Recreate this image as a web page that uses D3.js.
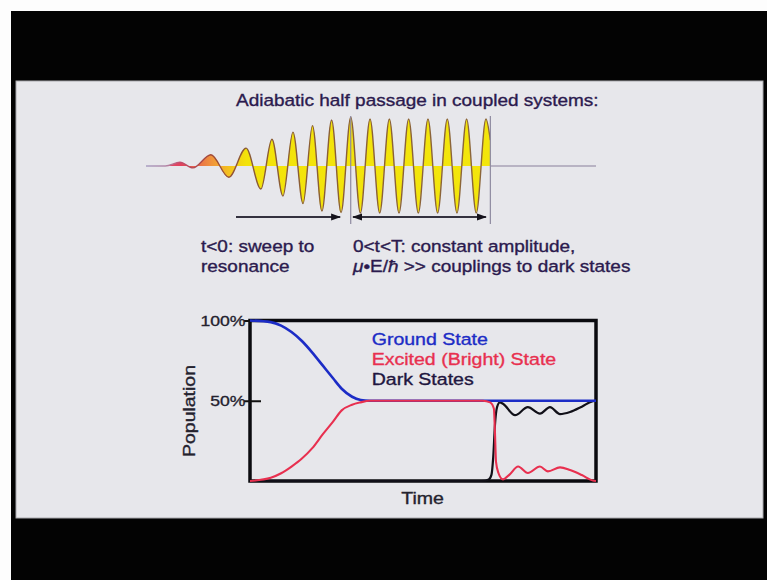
<!DOCTYPE html>
<html>
<head>
<meta charset="utf-8">
<script src="https://cdn.jsdelivr.net/npm/d3@7"></script>
<style>
  html, body { margin: 0; padding: 0; background: #fff; overflow: hidden; }
  svg { display: block; font-family: "Liberation Sans", Arial, Helvetica, sans-serif; }
</style>
</head>
<body>
<svg id="chart" width="767" height="580"></svg>
<script>
// ---- Laser pulse: field extrema, time in optical cycles (t = 0 at resonance) ----
const pulseStart = -10.6;
const pulseEnd = 12.7;
const cutTime = 7.23;
const pulseTime  = [-10.6, -9.6, -8.84, -8.17, -7.24, -6.31, -5.42, -4.65, -4.08, -3.51, -2.99, -2.47, -1.98, -1.49, -0.99, -0.5,
                    0, 0.5, 1, 1.5, 2, 2.5, 3, 3.5, 4, 4.5, 5, 5.5, 6, 6.5, 7, 7.23];
const pulseField = [0, 0, 0.08, -0.04, 0.24, -0.24, 0.38, -0.49, 0.57, -0.64, 0.72, -0.8, 0.86, -0.96, 0.98, -0.99,
                    1.04, -1, 1, -1, 1, -1, 1, -1, 1, -1, 1, -1, 1, -1, 1, 0.55];
// arrows marking the two stages of the pulse [from, to]
const sweepSpan = [-5.94, -0.55];
const plateauSpan = [0.12, 7.0];

// ---- Populations, time in arbitrary units 0..100 ----
const groundTime = [0, 6, 9, 12, 15, 18, 21, 24, 26.5, 29.5, 32, 34.5, 60, 100];
const groundPop  = [1.0, 0.99, 0.968, 0.928, 0.872, 0.8, 0.72, 0.64, 0.575, 0.525, 0.505, 0.5, 0.5, 0.5];

const excitedTime = [0, 6, 9, 12, 15, 18, 21, 24, 26.5, 29.5, 32, 34.5, 50, 67.3, 69.4, 70.5, 70.8, 71.1, 71.8, 73.1,
                     75, 77.5, 80.3, 83.8, 86.1, 89.6, 92.5, 95.9, 99.1, 100];
const excitedPop  = [0, 0.02, 0.048, 0.09, 0.14, 0.205, 0.29, 0.37, 0.44, 0.475, 0.49, 0.5, 0.5, 0.5, 0.49, 0.45, 0.3, 0.12, 0.05, 0.01,
                     0.04, 0.09, 0.05, 0.09, 0.06, 0.085, 0.068, 0.037, 0.003, 0];

const darkTime = [0, 50, 67, 69, 69.8, 70.3, 70.8, 71.4, 72.2, 73.2, 76.6, 80.3, 83.8, 86.7, 89.6, 92.5, 95.9, 99.1, 100];
const darkPop  = [0, 0, 0, 0.01, 0.04, 0.15, 0.35, 0.46, 0.49, 0.48, 0.41, 0.46, 0.42, 0.46, 0.417, 0.43, 0.463, 0.498, 0.5];

const popTicks = [0.5, 1];
const legendLabels = ["Ground State", "Excited (Bright) State", "Dark States"];
const legendColors = ["#1c2cc6", "#e8304f", "#1f1640"];

const titleText = "Adiabatic  half passage in coupled systems:";
const sweepLines = ["t<0: sweep to", "resonance"];
const plateauLine1 = "0<t<T: constant amplitude,";

// ---------------------------------------------------------------------------
const svg = d3.select("#chart");
const SX = 1.15;   // horizontal text stretch of the slide lettering
const ink = "#2b1a4e";

function label(parent, str, x, y, size, color, anchor) {
  return parent.append("text")
    .attr("transform", `translate(${x},${y}) scale(${SX},1)`)
    .attr("text-anchor", anchor || "start")
    .attr("font-size", size)
    .attr("fill", color)
    .attr("stroke", color).attr("stroke-width", 0.35)
    .text(str);
}

// frame of the projected slide
svg.append("rect").attr("x", 0).attr("y", 0).attr("width", 767).attr("height", 580).attr("fill", "#fdfdfd");
svg.append("rect").attr("x", 11).attr("y", 11).attr("width", 756).attr("height", 569).attr("fill", "#030303");
svg.append("rect").attr("x", 16).attr("y", 81).attr("width", 747).attr("height", 437)
  .attr("fill", "#e7e7eb").attr("stroke", "#a9a9ad").attr("stroke-width", 1);

// ---- title ----
label(svg, titleText, 236, 105.7, 16.5, ink);

// ---- pulse ----
const waveX = d3.scaleLinear().domain([pulseStart, pulseEnd]).range([146, 596]);
const waveY = d3.scaleLinear().domain([-1, 1]).range([213, 119]);
const pts = pulseTime.map((t, i) => [t, pulseField[i]]);

const defs = svg.append("defs");
const x0 = waveX(pulseStart), x1 = waveX(pulseEnd);
const off = t => (waveX(t) - x0) / (x1 - x0);

const fillGrad = defs.append("linearGradient").attr("id", "pulseFill")
  .attr("gradientUnits", "userSpaceOnUse").attr("x1", x0).attr("x2", x1).attr("y1", 0).attr("y2", 0);
[[pulseStart, "#e2607c"], [-8.8, "#e0425e"], [-8.0, "#e8684a"], [-7.2, "#f0943c"], [-6.3, "#f4c21e"], [-5.4, "#f3e30a"], [pulseEnd, "#f3e70c"]]
  .forEach(([t, c]) => fillGrad.append("stop").attr("offset", off(t)).attr("stop-color", c));

const strokeGrad = defs.append("linearGradient").attr("id", "pulseStroke")
  .attr("gradientUnits", "userSpaceOnUse").attr("x1", x0).attr("x2", x1).attr("y1", 0).attr("y2", 0);
[[pulseStart, "#a99fc2"], [-9.6, "#b28aaa"], [-8.8, "#c24c6c"], [-7.2, "#a04a38"], [-5.4, "#8a5a35"], [pulseEnd, "#8c6c3c"]]
  .forEach(([t, c]) => strokeGrad.append("stop").attr("offset", off(t)).attr("stop-color", c));

svg.append("path")
  .datum(pts)
  .attr("d", d3.area().x(d => waveX(d[0])).y0(waveY(0)).y1(d => waveY(d[1])).curve(d3.curveMonotoneX))
  .attr("fill", "url(#pulseFill)");

svg.append("path")
  .datum(pts)
  .attr("d", d3.line().x(d => waveX(d[0])).y(d => waveY(d[1])).curve(d3.curveMonotoneX))
  .attr("fill", "none").attr("stroke", "url(#pulseStroke)").attr("stroke-width", 1.4);

// baseline after the pulse
svg.append("line")
  .attr("x1", waveX(cutTime)).attr("x2", waveX(pulseEnd))
  .attr("y1", waveY(0)).attr("y2", waveY(0))
  .attr("stroke", "#a8a2b6").attr("stroke-width", 1.6);

// t = 0 and t = T markers
[0, cutTime].forEach(t => {
  svg.append("line")
    .attr("x1", waveX(t)).attr("x2", waveX(t))
    .attr("y1", waveY(1) - 3).attr("y2", waveY(-1) + 11)
    .attr("stroke", "#8e8aa0").attr("stroke-width", 1.2);
});

// arrows
defs.append("marker").attr("id", "head")
  .attr("markerUnits", "userSpaceOnUse").attr("markerWidth", 10).attr("markerHeight", 8)
  .attr("refX", 9).attr("refY", 4).attr("orient", "auto-start-reverse")
  .append("path").attr("d", "M0,0.5 L10,4 L0,7.5 Z").attr("fill", "#14121c");

const arrowY = waveY(-1) + 4;
svg.append("line")
  .attr("x1", waveX(sweepSpan[0])).attr("x2", waveX(sweepSpan[1]))
  .attr("y1", arrowY).attr("y2", arrowY)
  .attr("stroke", "#34323f").attr("stroke-width", 2)
  .attr("marker-end", "url(#head)");
svg.append("line")
  .attr("x1", waveX(plateauSpan[0])).attr("x2", waveX(plateauSpan[1]))
  .attr("y1", arrowY).attr("y2", arrowY)
  .attr("stroke", "#34323f").attr("stroke-width", 2)
  .attr("marker-start", "url(#head)").attr("marker-end", "url(#head)");

// stage descriptions
label(svg, sweepLines[0], 201, 251.7, 16.5, ink);
label(svg, sweepLines[1], 201, 271.7, 16.5, ink);
label(svg, plateauLine1, 353, 251.7, 16.5, ink);
const l2 = label(svg, "", 353, 271.7, 16.5, ink);
l2.append("tspan").attr("font-style", "italic").text("μ");
l2.append("tspan").text("•E/");
l2.append("tspan").attr("font-style", "italic").text("ħ");
l2.append("tspan").text(" >> couplings to dark states");

// ---- population plot ----
const popX = d3.scaleLinear().domain([0, 100]).range([250, 596]);
const popY = d3.scaleLinear().domain([0, 1]).range([481, 320.5]);

svg.append("rect")
  .attr("x", popX(0)).attr("y", popY(1))
  .attr("width", popX(100) - popX(0)).attr("height", popY(0) - popY(1))
  .attr("fill", "none").attr("stroke", "#0b0b0f").attr("stroke-width", 3.5);

const yAxis = svg.append("g")
  .attr("transform", `translate(${popX(0)},0)`)
  .call(d3.axisLeft(popY).tickValues(popTicks).tickFormat(d3.format(".0%")).tickSize(6).tickPadding(-2));
yAxis.select(".domain").remove();
yAxis.selectAll(".tick line").attr("x1", 11).attr("stroke", "#111").attr("stroke-width", 2);
yAxis.selectAll(".tick text")
  .attr("font-family", "Liberation Sans, Arial, sans-serif")
  .attr("font-size", 15.3).attr("fill", "#24222e")
  .attr("stroke", "#24222e").attr("stroke-width", 0.35)
  .attr("transform", `scale(${SX},1)`);

const popLine = (T, P) => d3.line()
  .x((d, i) => popX(T[i])).y((d, i) => popY(P[i]))
  .curve(d3.curveMonotoneX)(T);

svg.append("path").attr("d", popLine(darkTime, darkPop))
  .attr("fill", "none").attr("stroke", "#111018").attr("stroke-width", 2.2);
svg.append("path").attr("d", popLine(groundTime, groundPop))
  .attr("fill", "none").attr("stroke", legendColors[0]).attr("stroke-width", 2.6);
svg.append("path").attr("d", popLine(excitedTime, excitedPop))
  .attr("fill", "none").attr("stroke", legendColors[1]).attr("stroke-width", 2.1);

// legend
legendLabels.forEach((s, i) => {
  label(svg, s, 371.7, 345 + i * 20, 17, legendColors[i]);
});

// axis titles
label(svg, "Time", popX(50) - 0.5, 504, 17, "#24222e", "middle");
svg.append("text")
  .attr("transform", `translate(195,411) rotate(-90) scale(1.18,1)`)
  .attr("text-anchor", "middle").attr("font-size", 16.5).attr("fill", "#24222e")
  .attr("stroke", "#24222e").attr("stroke-width", 0.35)
  .text("Population");
</script>
</body>
</html>
